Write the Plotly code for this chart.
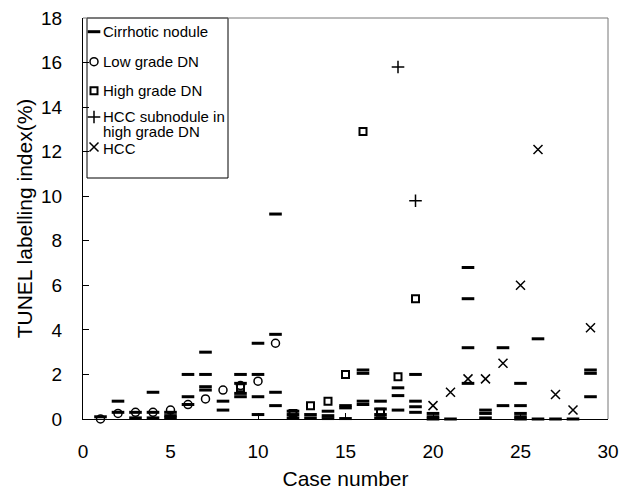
import plotly.graph_objects as go

# ---------------- data ----------------
cirr_case = [1,
             2, 2,
             3, 3,
             4, 4, 4,
             5, 5, 5,
             6, 6, 6,
             7, 7, 7, 7,
             8, 8,
             9, 9, 9, 9,
             10, 10, 10, 10,
             11, 11, 11, 11,
             12, 12, 12,
             13, 13,
             14, 14, 14,
             15, 15, 15,
             16, 16, 16, 16,
             17, 17, 17, 17,
             18, 18, 18,
             19, 19, 19, 19,
             20, 20, 20,
             21,
             22, 22, 22, 22,
             23, 23, 23,
             24, 24,
             25, 25, 25, 25, 25,
             26, 26,
             27,
             28,
             29, 29, 29]
cirr_val = [0.1,
            0.8, 0.3,
            0.3, 0.05,
            1.2, 0.3, 0.05,
            0.3, 0.15, 0.05,
            2.0, 1.0, 0.65,
            3.0, 2.0, 1.45, 1.3,
            0.8, 0.4,
            2.0, 1.6, 1.15, 1.0,
            3.4, 2.0, 1.0, 0.2,
            9.2, 3.8, 1.2, 0.6,
            0.35, 0.2, 0.05,
            0.2, 0.05,
            0.35, 0.15, 0.02,
            0.6, 0.5, 0.02,
            2.2, 2.05, 0.8, 0.65,
            0.8, 0.45, 0.2, 0.05,
            1.4, 1.05, 0.4,
            2.0, 0.8, 0.55, 0.3,
            0.25, 0.1, 0.0,
            0.0,
            6.8, 5.4, 3.2, 1.6,
            0.4, 0.25, 0.05,
            3.2, 0.6,
            1.6, 0.6, 0.25, 0.1, 0.0,
            3.6, 0.0,
            0.0,
            0.0,
            2.2, 2.05, 1.0]

low_case = [1, 2, 3, 4, 5, 6, 7, 8, 9, 10, 11]
low_val = [0.0, 0.25, 0.3, 0.3, 0.4, 0.65, 0.9, 1.3, 1.5, 1.7, 3.4]

high_case = [9, 12, 13, 14, 15, 16, 17, 18, 19]
high_val = [1.4, 0.25, 0.6, 0.8, 2.0, 12.9, 0.3, 1.9, 5.4]

sub_case = [18, 19]
sub_val = [15.8, 9.8]

hcc_case = [20, 21, 22, 23, 24, 25, 26, 27, 28, 29]
hcc_val = [0.6, 1.2, 1.8, 1.8, 2.5, 6.0, 12.1, 1.1, 0.4, 4.1]

x_ticks = [0, 5, 10, 15, 20, 25, 30]
y_ticks = [0, 2, 4, 6, 8, 10, 12, 14, 16, 18]

legend_names = ["Cirrhotic nodule", "Low grade DN", "High grade DN",
                "HCC subnodule in", "high grade DN", "HCC"]

# ---------------- layout constants ----------------
W, H = 623, 491
L, R, T, B = 83, 15, 18, 72
PW, PH = W - L - R, H - T - B
FONT = "Liberation Sans, Arial, Helvetica, sans-serif"


def px_x(px):
    return (px - L) / PW


def px_y(py):
    return (H - B - py) / PH


dash_m = dict(symbol="line-ew", size=9, color="black", line=dict(width=3, color="black"))
circ_m = dict(symbol="circle-open", size=8, color="black", line=dict(width=1.5, color="black"))
sq_m = dict(symbol="square-open", size=7, color="black", line=dict(width=2, color="black"))
plus_m = dict(symbol="cross-thin-open", size=9, color="black", line=dict(width=1.5, color="black"))
x_m = dict(symbol="x-thin-open", size=9, color="black", line=dict(width=1.5, color="black"))

fig = go.Figure()
fig.add_trace(go.Scatter(x=cirr_case, y=cirr_val, mode="markers", marker=dash_m,
                         name="Cirrhotic nodule", showlegend=False, cliponaxis=False))
fig.add_trace(go.Scatter(x=low_case, y=low_val, mode="markers", marker=circ_m,
                         name="Low grade DN", showlegend=False, cliponaxis=False))
fig.add_trace(go.Scatter(x=high_case, y=high_val, mode="markers", marker=sq_m,
                         name="High grade DN", showlegend=False, cliponaxis=False))
fig.add_trace(go.Scatter(x=sub_case, y=sub_val, mode="markers", marker=plus_m,
                         name="HCC subnodule in high grade DN", showlegend=False, cliponaxis=False))
fig.add_trace(go.Scatter(x=hcc_case, y=hcc_val, mode="markers", marker=x_m,
                         name="HCC", showlegend=False, cliponaxis=False))

# ---------------- manual legend (boxed, upper left) ----------------
leg_rows_y = [31.7, 61.7, 90.7, 117, 147]
leg_sym_x = 94
leg_markers = [dash_m, circ_m, sq_m, plus_m, x_m]
for ry, mk in zip(leg_rows_y, leg_markers):
    fig.add_trace(go.Scatter(x=[px_x(leg_sym_x)], y=[px_y(ry)], mode="markers",
                             marker=mk, xaxis="x2", yaxis="y2", showlegend=False,
                             hoverinfo="skip", cliponaxis=False))

text_rows_y = [31.7, 61.7, 90.7, 116, 132, 148]
for name, ry in zip(legend_names, text_rows_y):
    fig.add_annotation(x=px_x(101), y=px_y(ry), xref="paper", yref="paper",
                       text=name, showarrow=False, xanchor="left", yanchor="middle",
                       font=dict(family=FONT, size=15, color="black"))

fig.add_shape(type="rect", xref="paper", yref="paper",
              x0=px_x(87), x1=px_x(228), y0=px_y(178), y1=px_y(18),
              line=dict(color="black", width=1), fillcolor="rgba(0,0,0,0)")

# frame top & right
fig.add_shape(type="line", xref="paper", yref="paper", x0=0, x1=1, y0=1, y1=1,
              line=dict(color="#777", width=1))
fig.add_shape(type="line", xref="paper", yref="paper", x0=1, x1=1, y0=0, y1=1,
              line=dict(color="#777", width=1))

fig.update_layout(
    width=W, height=H,
    margin=dict(l=L, r=R, t=T, b=B, autoexpand=False),
    paper_bgcolor="white", plot_bgcolor="white",
    showlegend=False,
    hovermode=False,
    font=dict(family=FONT, color="black"),
    xaxis=dict(range=[0, 30], tickvals=x_ticks, ticktext=[str(v) for v in x_ticks],
               ticks="inside", ticklen=6, tickcolor="black", showline=True,
               linecolor="black", linewidth=1, showgrid=False, zeroline=False,
               tickfont=dict(size=19), ticklabelstandoff=15,
               title=dict(text="Case number", font=dict(size=21), standoff=10)),
    yaxis=dict(range=[0, 18], tickvals=y_ticks, ticktext=[str(v) for v in y_ticks],
               ticks="inside", ticklen=6, tickcolor="black", showline=True,
               linecolor="black", linewidth=1, showgrid=False, zeroline=False,
               tickfont=dict(size=19), ticklabelstandoff=16,
               title=dict(text="TUNEL labelling index(%)", font=dict(size=21), standoff=2)),
    xaxis2=dict(range=[0, 1], overlaying="x", visible=False),
    yaxis2=dict(range=[0, 1], overlaying="y", visible=False),
)

fig.write_html("out.html",
               config={"displayModeBar": False, "staticPlot": True},
               post_script="document.body.style.margin='0';document.body.style.padding='0';")
